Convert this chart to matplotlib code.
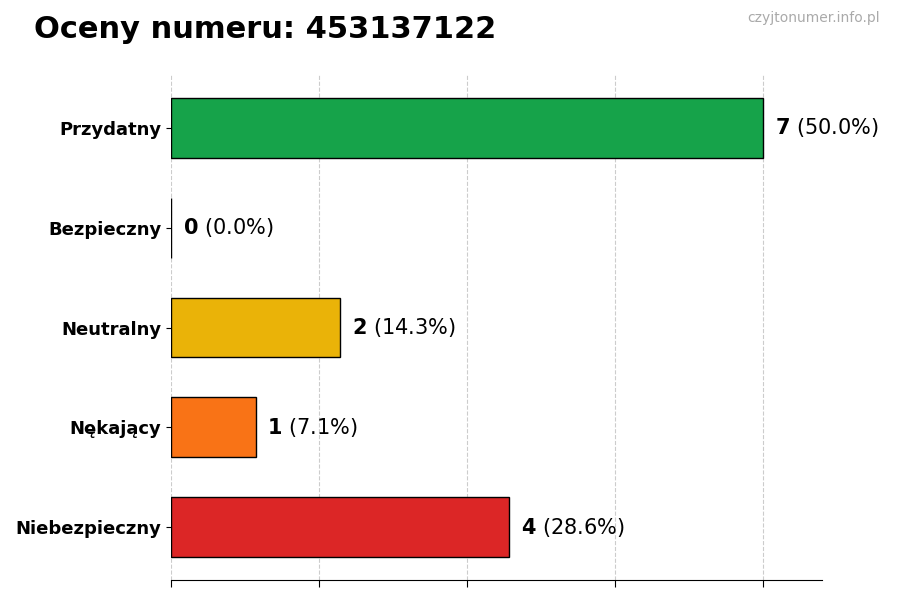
import matplotlib
matplotlib.use("Agg")
import matplotlib.pyplot as plt

categories = ["Niebezpieczny", "Nękający", "Neutralny", "Bezpieczny", "Przydatny"]
counts = [4, 1, 2, 0, 7]
colors = ["#dc2626", "#f97316", "#eab308", "#16a34a", "#16a34a"]
total = sum(counts)

fig = plt.figure(figsize=(9, 6), dpi=100)
ax = fig.add_axes([0.19, 0.0333, 0.7233, 0.8417])
ypos = list(range(len(categories)))
ax.barh(ypos, counts, height=0.6, color=colors, edgecolor="black", linewidth=1, zorder=3)
for y, c in zip(ypos, counts):
    ax.text(c + 0.14, y, r"$\mathbf{%d}$ (%.1f%%)" % (c, 100 * c / total),
            va="center", ha="left", fontsize=15)
ax.set_yticks(ypos)
ax.set_yticklabels(categories, fontsize=13, fontweight="bold")
ax.set_xlim(0, 7.7)
ax.set_ylim(-0.53, 4.53)
ax.set_xticks([0, 1.75, 3.5, 5.25, 7.0])
ax.set_xticklabels([])
ax.tick_params(axis="x", length=5)
ax.grid(axis="x", linestyle="--", color="#cccccc", linewidth=0.8, zorder=0)
for s in ["top", "right", "left"]:
    ax.spines[s].set_visible(False)
fig.text(0.038, 0.95, "Oceny numeru: 453137122", fontsize=22, fontweight="bold", va="center")
fig.text(0.978, 0.97, "czyjtonumer.info.pl", fontsize=10, color="#aaaaaa", ha="right", va="center")
fig.savefig("out.png", dpi=100)
